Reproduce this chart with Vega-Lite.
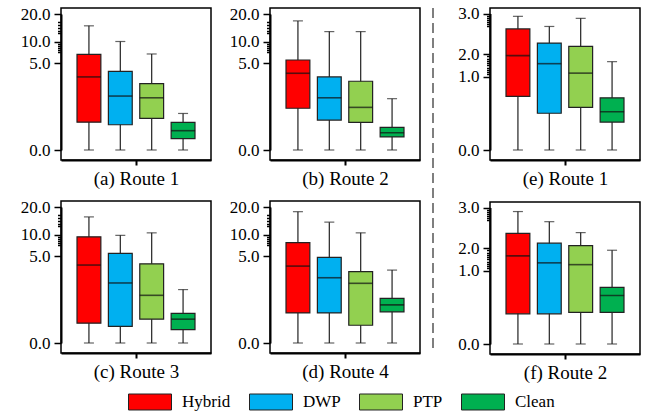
{
  "$schema": "https://vega.github.io/schema/vega-lite/v6.json",
  "padding": {"left": 19, "top": 3, "right": 0, "bottom": 0},
  "data": {"values": [
    {"panel": "a", "method": "Hybrid", "min": 0, "q1": 1.6, "median": 4.2, "q3": 7.0, "max": 15.7},
    {"panel": "a", "method": "DWP", "min": 0, "q1": 1.45, "median": 3.1, "q3": 4.52, "max": 10.0},
    {"panel": "a", "method": "PTP", "min": 0, "q1": 1.82, "median": 3.0, "q3": 3.81, "max": 7.1},
    {"panel": "a", "method": "Clean", "min": 0, "q1": 0.65, "median": 1.11, "q3": 1.59, "max": 2.1},
    {"panel": "b", "method": "Hybrid", "min": 0, "q1": 2.4, "median": 4.41, "q3": 5.7, "max": 17.5},
    {"panel": "b", "method": "DWP", "min": 0, "q1": 1.72, "median": 3.0, "q3": 4.2, "max": 13.6},
    {"panel": "b", "method": "PTP", "min": 0, "q1": 1.59, "median": 2.45, "q3": 3.95, "max": 13.6},
    {"panel": "b", "method": "Clean", "min": 0, "q1": 0.75, "median": 0.99, "q3": 1.3, "max": 2.95},
    {"panel": "c", "method": "Hybrid", "min": 0, "q1": 1.14, "median": 4.48, "q3": 9.45, "max": 16.4},
    {"panel": "c", "method": "DWP", "min": 0, "q1": 0.95, "median": 3.45, "q3": 5.6, "max": 9.8},
    {"panel": "c", "method": "PTP", "min": 0, "q1": 1.37, "median": 2.74, "q3": 4.55, "max": 10.6},
    {"panel": "c", "method": "Clean", "min": 0, "q1": 0.77, "median": 1.37, "q3": 1.7, "max": 3.07},
    {"panel": "d", "method": "Hybrid", "min": 0, "q1": 1.73, "median": 4.42, "q3": 8.1, "max": 18.3},
    {"panel": "d", "method": "DWP", "min": 0, "q1": 1.73, "median": 3.75, "q3": 4.92, "max": 14.5},
    {"panel": "d", "method": "PTP", "min": 0, "q1": 1.02, "median": 3.43, "q3": 4.1, "max": 10.6},
    {"panel": "d", "method": "Clean", "min": 0, "q1": 1.79, "median": 2.19, "q3": 2.56, "max": 4.19},
    {"panel": "e", "method": "Hybrid", "min": 0, "q1": 0.73, "median": 1.93, "q3": 2.62, "max": 2.93},
    {"panel": "e", "method": "DWP", "min": 0, "q1": 0.5, "median": 1.57, "q3": 2.27, "max": 2.68},
    {"panel": "e", "method": "PTP", "min": 0, "q1": 0.58, "median": 1.15, "q3": 2.19, "max": 2.88},
    {"panel": "e", "method": "Clean", "min": 0, "q1": 0.38, "median": 0.52, "q3": 0.71, "max": 1.66},
    {"panel": "f", "method": "Hybrid", "min": 0, "q1": 0.41, "median": 1.65, "q3": 2.36, "max": 2.9},
    {"panel": "f", "method": "DWP", "min": 0, "q1": 0.41, "median": 1.34, "q3": 2.12, "max": 2.65},
    {"panel": "f", "method": "PTP", "min": 0, "q1": 0.43, "median": 1.26, "q3": 2.06, "max": 2.38},
    {"panel": "f", "method": "Clean", "min": 0, "q1": 0.43, "median": 0.66, "q3": 0.77, "max": 1.9}
  ]},
  "spacing": 10,
  "hconcat": [
    {
      "columns": 2,
      "spacing": {"row": 8, "column": 16},
      "concat": [
        {
          "width": 150, "height": 152,
          "transform": [{"filter": "datum.panel === 'a'"}],
          "encoding": {
            "x": {"field": "method", "type": "nominal", "sort": ["Hybrid", "DWP", "PTP", "Clean"], "scale": {"paddingInner": 0.24, "paddingOuter": 0.51}, "axis": {"title": "(a) Route 1", "labels": false, "values": ["DWP"], "bandPosition": 1.158}}
          },
          "resolve": {"axis": {"y": "independent"}},
          "layer": [
            {"mark": {"type": "rule", "color": "#222", "strokeWidth": 1.2}, "encoding": {"y": {"field": "min", "type": "quantitative", "scale": {"domain": [0, 5, 10, 20], "range": [142, 55, 33.5, 6], "zero": false, "nice": false}, "axis": {"title": null, "values": [0, 5, 10, 20], "format": ".1f"}}, "y2": {"field": "max"}}},
            {"mark": {"type": "bar", "stroke": "#222", "strokeWidth": 1.2}, "encoding": {"y": {"field": "q1", "type": "quantitative", "axis": null}, "y2": {"field": "q3"}, "color": {"field": "method", "type": "nominal", "sort": ["Hybrid", "DWP", "PTP", "Clean"], "scale": {"domain": ["Hybrid", "DWP", "PTP", "Clean"], "range": ["#FF0000", "#00B0F0", "#92D050", "#00B050"]}}}},
            {"mark": {"type": "tick", "color": "#111", "thickness": 1.6, "size": 24}, "encoding": {"y": {"field": "median", "type": "quantitative", "axis": {"title": null, "orient": "left", "labels": false, "domain": false, "tickSize": 3.5, "values": [13, 14, 15, 16, 17, 7.5, 8, 8.5, 9, 9.5]}}}},
            {"mark": {"type": "tick", "color": "#222", "thickness": 1.2, "size": 10}, "encoding": {"y": {"field": "min", "type": "quantitative", "axis": null}}},
            {"mark": {"type": "tick", "color": "#222", "thickness": 1.2, "size": 10}, "encoding": {"y": {"field": "max", "type": "quantitative", "axis": null}}}
          ]
        },
        {
          "width": 150, "height": 152,
          "transform": [{"filter": "datum.panel === 'b'"}],
          "encoding": {
            "x": {"field": "method", "type": "nominal", "sort": ["Hybrid", "DWP", "PTP", "Clean"], "scale": {"paddingInner": 0.24, "paddingOuter": 0.51}, "axis": {"title": "(b) Route 2", "labels": false, "values": ["DWP"], "bandPosition": 1.158}}
          },
          "resolve": {"axis": {"y": "independent"}},
          "layer": [
            {"mark": {"type": "rule", "color": "#222", "strokeWidth": 1.2}, "encoding": {"y": {"field": "min", "type": "quantitative", "scale": {"domain": [0, 5, 10, 20], "range": [142, 55, 33.5, 6], "zero": false, "nice": false}, "axis": {"title": null, "values": [0, 5, 10, 20], "format": ".1f"}}, "y2": {"field": "max"}}},
            {"mark": {"type": "bar", "stroke": "#222", "strokeWidth": 1.2}, "encoding": {"y": {"field": "q1", "type": "quantitative", "axis": null}, "y2": {"field": "q3"}, "color": {"field": "method", "type": "nominal", "sort": ["Hybrid", "DWP", "PTP", "Clean"], "scale": {"domain": ["Hybrid", "DWP", "PTP", "Clean"], "range": ["#FF0000", "#00B0F0", "#92D050", "#00B050"]}}}},
            {"mark": {"type": "tick", "color": "#111", "thickness": 1.6, "size": 24}, "encoding": {"y": {"field": "median", "type": "quantitative", "axis": {"title": null, "orient": "left", "labels": false, "domain": false, "tickSize": 3.5, "values": [13, 14, 15, 16, 17, 7.5, 8, 8.5, 9, 9.5]}}}},
            {"mark": {"type": "tick", "color": "#222", "thickness": 1.2, "size": 10}, "encoding": {"y": {"field": "min", "type": "quantitative", "axis": null}}},
            {"mark": {"type": "tick", "color": "#222", "thickness": 1.2, "size": 10}, "encoding": {"y": {"field": "max", "type": "quantitative", "axis": null}}}
          ]
        },
        {
          "width": 150, "height": 152,
          "transform": [{"filter": "datum.panel === 'c'"}],
          "encoding": {
            "x": {"field": "method", "type": "nominal", "sort": ["Hybrid", "DWP", "PTP", "Clean"], "scale": {"paddingInner": 0.24, "paddingOuter": 0.51}, "axis": {"title": "(c) Route 3", "labels": false, "values": ["DWP"], "bandPosition": 1.158}}
          },
          "resolve": {"axis": {"y": "independent"}},
          "layer": [
            {"mark": {"type": "rule", "color": "#222", "strokeWidth": 1.2}, "encoding": {"y": {"field": "min", "type": "quantitative", "scale": {"domain": [0, 5, 10, 20], "range": [142, 55, 33.5, 6], "zero": false, "nice": false}, "axis": {"title": null, "values": [0, 5, 10, 20], "format": ".1f"}}, "y2": {"field": "max"}}},
            {"mark": {"type": "bar", "stroke": "#222", "strokeWidth": 1.2}, "encoding": {"y": {"field": "q1", "type": "quantitative", "axis": null}, "y2": {"field": "q3"}, "color": {"field": "method", "type": "nominal", "sort": ["Hybrid", "DWP", "PTP", "Clean"], "scale": {"domain": ["Hybrid", "DWP", "PTP", "Clean"], "range": ["#FF0000", "#00B0F0", "#92D050", "#00B050"]}}}},
            {"mark": {"type": "tick", "color": "#111", "thickness": 1.6, "size": 24}, "encoding": {"y": {"field": "median", "type": "quantitative", "axis": {"title": null, "orient": "left", "labels": false, "domain": false, "tickSize": 3.5, "values": [13, 14, 15, 16, 17, 7.5, 8, 8.5, 9, 9.5]}}}},
            {"mark": {"type": "tick", "color": "#222", "thickness": 1.2, "size": 10}, "encoding": {"y": {"field": "min", "type": "quantitative", "axis": null}}},
            {"mark": {"type": "tick", "color": "#222", "thickness": 1.2, "size": 10}, "encoding": {"y": {"field": "max", "type": "quantitative", "axis": null}}}
          ]
        },
        {
          "width": 150, "height": 152,
          "transform": [{"filter": "datum.panel === 'd'"}],
          "encoding": {
            "x": {"field": "method", "type": "nominal", "sort": ["Hybrid", "DWP", "PTP", "Clean"], "scale": {"paddingInner": 0.24, "paddingOuter": 0.51}, "axis": {"title": "(d) Route 4", "labels": false, "values": ["DWP"], "bandPosition": 1.158}}
          },
          "resolve": {"axis": {"y": "independent"}},
          "layer": [
            {"mark": {"type": "rule", "color": "#222", "strokeWidth": 1.2}, "encoding": {"y": {"field": "min", "type": "quantitative", "scale": {"domain": [0, 5, 10, 20], "range": [142, 55, 33.5, 6], "zero": false, "nice": false}, "axis": {"title": null, "values": [0, 5, 10, 20], "format": ".1f"}}, "y2": {"field": "max"}}},
            {"mark": {"type": "bar", "stroke": "#222", "strokeWidth": 1.2}, "encoding": {"y": {"field": "q1", "type": "quantitative", "axis": null}, "y2": {"field": "q3"}, "color": {"field": "method", "type": "nominal", "sort": ["Hybrid", "DWP", "PTP", "Clean"], "scale": {"domain": ["Hybrid", "DWP", "PTP", "Clean"], "range": ["#FF0000", "#00B0F0", "#92D050", "#00B050"]}}}},
            {"mark": {"type": "tick", "color": "#111", "thickness": 1.6, "size": 24}, "encoding": {"y": {"field": "median", "type": "quantitative", "axis": {"title": null, "orient": "left", "labels": false, "domain": false, "tickSize": 3.5, "values": [13, 14, 15, 16, 17, 7.5, 8, 8.5, 9, 9.5]}}}},
            {"mark": {"type": "tick", "color": "#222", "thickness": 1.2, "size": 10}, "encoding": {"y": {"field": "min", "type": "quantitative", "axis": null}}},
            {"mark": {"type": "tick", "color": "#222", "thickness": 1.2, "size": 10}, "encoding": {"y": {"field": "max", "type": "quantitative", "axis": null}}}
          ]
        }
      ]
    },
    {
      "data": {"values": [{}]},
      "width": 15, "height": 342,
      "view": {"stroke": null},
      "layer": [
        {"mark": {"type": "rule", "color": "#555", "strokeWidth": 1.5, "strokeDash": [10, 5]}, "encoding": {"x": {"value": 2}}},
        {"mark": {"type": "rule", "color": "#ffffff", "strokeWidth": 1}, "encoding": {"x": {"value": 15}}}
      ]
    },
    {
      "spacing": 8,
      "vconcat": [
        {
          "width": 150, "height": 152,
          "transform": [{"filter": "datum.panel === 'e'"}],
          "encoding": {
            "x": {"field": "method", "type": "nominal", "sort": ["Hybrid", "DWP", "PTP", "Clean"], "scale": {"paddingInner": 0.24, "paddingOuter": 0.51}, "axis": {"title": "(e) Route 1", "labels": false, "values": ["DWP"], "bandPosition": 1.158}}
          },
          "resolve": {"axis": {"y": "independent"}},
          "layer": [
            {"mark": {"type": "rule", "color": "#222", "strokeWidth": 1.2}, "encoding": {"y": {"field": "min", "type": "quantitative", "scale": {"domain": [0, 1, 2, 3], "range": [142, 68.5, 46, 5.5], "zero": false, "nice": false}, "axis": {"title": null, "values": [0, 1, 2, 3], "format": ".1f"}}, "y2": {"field": "max"}}},
            {"mark": {"type": "bar", "stroke": "#222", "strokeWidth": 1.2}, "encoding": {"y": {"field": "q1", "type": "quantitative", "axis": null}, "y2": {"field": "q3"}, "color": {"field": "method", "type": "nominal", "sort": ["Hybrid", "DWP", "PTP", "Clean"], "scale": {"domain": ["Hybrid", "DWP", "PTP", "Clean"], "range": ["#FF0000", "#00B0F0", "#92D050", "#00B050"]}}}},
            {"mark": {"type": "tick", "color": "#111", "thickness": 1.6, "size": 24}, "encoding": {"y": {"field": "median", "type": "quantitative", "axis": {"title": null, "orient": "left", "labels": false, "domain": false, "tickSize": 3.5, "values": [2.7, 2.75, 2.8, 2.85, 2.9, 2.95, 1.1, 1.2, 1.3, 1.4, 1.5, 1.6, 1.7, 1.8, 1.9]}}}},
            {"mark": {"type": "tick", "color": "#222", "thickness": 1.2, "size": 10}, "encoding": {"y": {"field": "min", "type": "quantitative", "axis": null}}},
            {"mark": {"type": "tick", "color": "#222", "thickness": 1.2, "size": 10}, "encoding": {"y": {"field": "max", "type": "quantitative", "axis": null}}}
          ]
        },
        {
          "width": 150, "height": 152,
          "transform": [{"filter": "datum.panel === 'f'"}],
          "encoding": {
            "x": {"field": "method", "type": "nominal", "sort": ["Hybrid", "DWP", "PTP", "Clean"], "scale": {"paddingInner": 0.24, "paddingOuter": 0.51}, "axis": {"title": "(f) Route 2", "labels": false, "values": ["DWP"], "bandPosition": 1.158}}
          },
          "resolve": {"axis": {"y": "independent"}},
          "layer": [
            {"mark": {"type": "rule", "color": "#222", "strokeWidth": 1.2}, "encoding": {"y": {"field": "min", "type": "quantitative", "scale": {"domain": [0, 1, 2, 3], "range": [142, 68.5, 46, 5.5], "zero": false, "nice": false}, "axis": {"title": null, "values": [0, 1, 2, 3], "format": ".1f"}}, "y2": {"field": "max"}}},
            {"mark": {"type": "bar", "stroke": "#222", "strokeWidth": 1.2}, "encoding": {"y": {"field": "q1", "type": "quantitative", "axis": null}, "y2": {"field": "q3"}, "color": {"field": "method", "type": "nominal", "sort": ["Hybrid", "DWP", "PTP", "Clean"], "scale": {"domain": ["Hybrid", "DWP", "PTP", "Clean"], "range": ["#FF0000", "#00B0F0", "#92D050", "#00B050"]}}}},
            {"mark": {"type": "tick", "color": "#111", "thickness": 1.6, "size": 24}, "encoding": {"y": {"field": "median", "type": "quantitative", "axis": {"title": null, "orient": "left", "labels": false, "domain": false, "tickSize": 3.5, "values": [2.7, 2.75, 2.8, 2.85, 2.9, 2.95, 1.1, 1.2, 1.3, 1.4, 1.5, 1.6, 1.7, 1.8, 1.9]}}}},
            {"mark": {"type": "tick", "color": "#222", "thickness": 1.2, "size": 10}, "encoding": {"y": {"field": "min", "type": "quantitative", "axis": null}}},
            {"mark": {"type": "tick", "color": "#222", "thickness": 1.2, "size": 10}, "encoding": {"y": {"field": "max", "type": "quantitative", "axis": null}}}
          ]
        }
      ]
    }
  ],
  "config": {
    "view": {"stroke": "black", "strokeWidth": 1.5},
    "font": "Liberation Serif",
    "axis": {
      "labelFont": "Liberation Serif", "labelFontSize": 17, "labelColor": "black",
      "titleFont": "Liberation Serif", "titleFontSize": 19, "titleFontWeight": "normal", "titleColor": "black",
      "domainColor": "black", "domainWidth": 2, "tickColor": "black", "tickWidth": 1.5, "tickSize": 7,
      "labelPadding": 4, "grid": false
    },
    "axisX": {"tickSize": 5, "tickWidth": 2, "titlePadding": 3},
    "legend": {
      "orient": "none", "legendX": 67, "legendY": 372, "direction": "horizontal", "title": null,
      "symbolType": "M-1,-0.372H1V0.372H-1Z", "symbolSize": 1849, "symbolStrokeColor": "#222", "symbolStrokeWidth": 1,
      "symbolOpacity": 1,
      "labelFont": "Liberation Serif", "labelFontSize": 17, "labelColor": "black", "labelOffset": 10,
      "columnPadding": 16, "padding": 0
    }
  }
}
